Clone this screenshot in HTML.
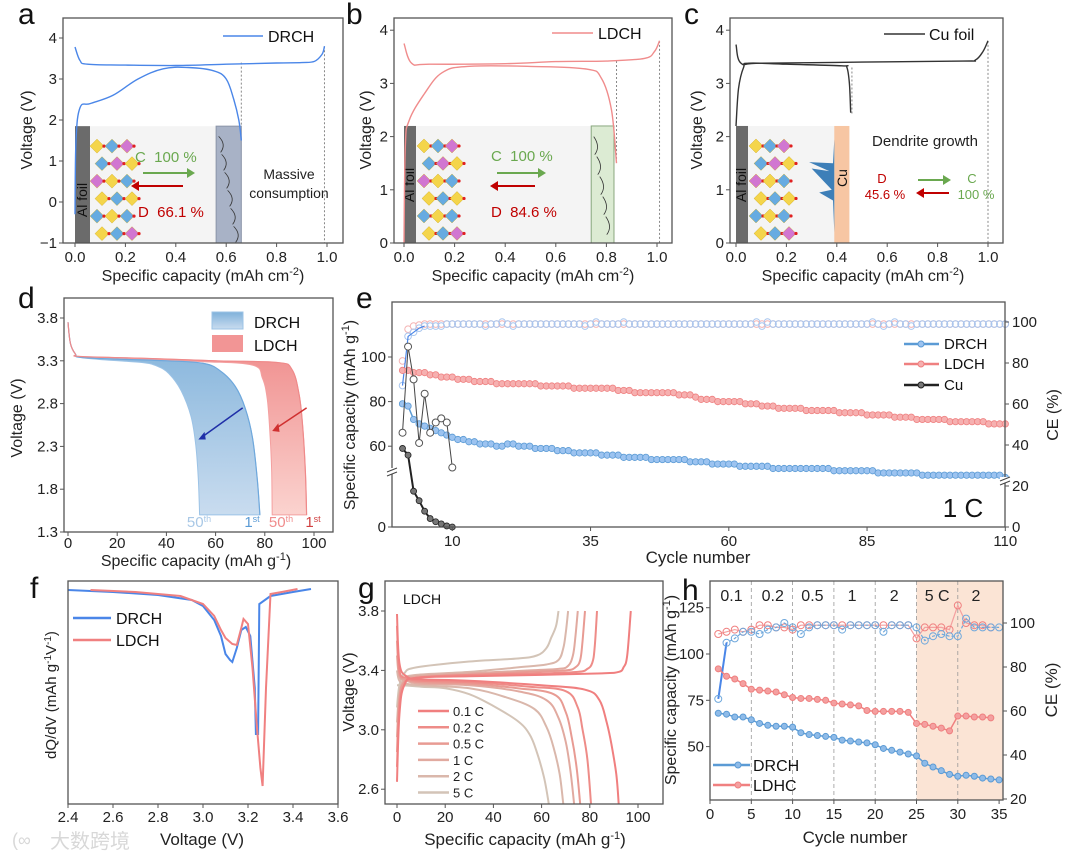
<!DOCTYPE html>
<html><head><meta charset="utf-8"><style>
html,body{margin:0;padding:0;background:#fff;}
svg{display:block;font-family:"Liberation Sans","Noto Sans CJK SC",sans-serif;}
</style></head><body>
<svg id="fig" width="1080" height="863" viewBox="0 0 1080 863">
<defs>
<linearGradient id="gBlue" x1="0" y1="0" x2="0" y2="1"><stop offset="0" stop-color="#7fb1da"/><stop offset="1" stop-color="#c9dcef"/></linearGradient>
<linearGradient id="gRed" x1="0" y1="0" x2="0" y2="1"><stop offset="0" stop-color="#ee8585"/><stop offset="1" stop-color="#fbd3cf"/></linearGradient>
<clipPath id="clipG"><rect x="385" y="581" width="278" height="223"/></clipPath>
</defs>
</svg>
<script>
// ---------- DATA ----------
const aChgCap=[0,0.02,0.05,0.2,0.4,0.6,0.8,0.9,0.95,0.98,0.99];
const aChgV=[3.78,3.45,3.36,3.34,3.33,3.36,3.39,3.4,3.43,3.6,3.8];
const aDisCap=[0,0.004,0.02,0.06,0.15,0.25,0.35,0.45,0.55,0.6,0.63,0.65,0.66];
const aDisV=[-0.3,1.5,2.3,2.4,2.6,3.0,3.25,3.28,3.2,3.0,2.5,2.0,1.5];
const bChgCap=[0,0.03,0.1,0.4,0.6,0.8,0.95,0.99,1.01];
const bChgV=[3.75,3.38,3.36,3.37,3.41,3.42,3.47,3.6,3.8];
const bDisCap=[0,0.005,0.02,0.08,0.15,0.25,0.5,0.72,0.78,0.82,0.84];
const bDisV=[0,1.8,2.3,2.8,3.2,3.32,3.32,3.27,3.1,2.5,1.5];
const cChgCap=[0,0.02,0.1,0.5,0.9,0.95,0.98,1.0];
const cChgV=[3.73,3.38,3.38,3.4,3.42,3.44,3.6,3.8];
const cDisCap=[0,0.01,0.03,0.05,0.2,0.42,0.44,0.45,0.455];
const cDisV=[2.2,2.9,3.3,3.38,3.36,3.33,3.3,3.0,2.45];
const dBlue1Cap=[0,1,3,5,20,40,55,62,68,72,75,77,78];
const dBlue1V=[3.75,3.5,3.38,3.34,3.32,3.3,3.27,3.18,3.0,2.75,2.4,1.9,1.5];
const dBlue50Cap=[0,1,3,5,15,30,36,41,46,50,52,53,53.5];
const dBlue50V=[3.75,3.5,3.38,3.34,3.31,3.28,3.24,3.15,2.95,2.65,2.3,1.9,1.5];
const dRed1Cap=[0,1,3,5,30,60,85,91,94,95.5,96.5,97];
const dRed1V=[3.75,3.5,3.38,3.35,3.33,3.3,3.28,3.2,2.9,2.5,2.0,1.5];
const dRed50Cap=[0,1,3,5,30,55,75,79,81,82.2,82.8,83];
const dRed50V=[3.75,3.5,3.38,3.35,3.32,3.29,3.25,3.1,2.85,2.4,2.0,1.5];
const eDRCH=[79,78,72,70,69,68,67,66,65,64,63,63,62,62,61,61,61,60,60,61,61,60,60,60,59,59,59,59,58,58,58,57,57,57,57,57,56,56,56,56,55,55,55,55,55,54,54,54,54,54,54,54,53,53,53,53,52,52,52,52,52,51,51,51,51,51,51,50,50,50,50,50,50,50,50,50,50,50,49,49,49,49,49,49,49,49,48,48,48,48,48,48,48,48,47,47,47,47,47,47,47,47,47,47,47,47,47,47,47,46];
const eLDCH=[94,94,93,93,93,92,92,91,91,91,90,90,90,89,89,89,89,88,88,88,88,88,88,88,88,87,87,87,87,87,87,86,86,86,86,86,86,86,86,85,85,85,84,84,84,84,84,84,84,84,83,83,83,82,81,81,81,80,80,80,80,80,79,79,79,78,78,78,77,77,77,77,77,76,76,76,76,76,76,75,75,75,75,75,74,74,74,74,74,73,73,73,73,72,72,72,72,72,72,71,71,71,71,71,71,71,70,70,70,70];
const eCu=[59,56,34,25,15,8,5,3,1,0];
const eCeDRCH=[69,93,95,97,98,98,98,98,99,99,99,99,99,99,99,98,99,99,100,99,98,99,99,99,99,99,99,99,99,99,99,99,99,98,99,100,99,99,99,99,100,99,99,99,99,99,99,99,99,99,99,99,99,99,99,99,99,99,99,99,99,99,99,99,100,98,100,99,99,99,99,99,99,99,99,99,99,99,99,99,99,99,99,99,99,100,99,98,99,100,99,99,98,99,99,99,99,99,99,99,99,99,99,99,99,99,99,99,99,99];
const eCeLDCH=[81,96.5,98,98.5,99,99,99,99,99,99,99,99,99,99,99,99,99,99,99,99,99,99,99,99,99,99,99,99,99,99,99,99,99,99,99,99,99,99,99,99,99,99,99,99,99,99,99,99,99,99,99,99,99,99,99,99,99,99,99,99,99,99,99,99,99,99,99,99,99,99,99,99,99,99,99,99,99,99,99,99,99,99,99,99,99,99,99,99,99,99,99,99,99,99,99,99,99,99,99,99,99,99,99,99,99,99,99,99,99,99];
const eCeCu=[46,88,72,41,65,46,51,53,51,29];
const eXTicks=[10,35,60,85,110];
const eLTicks=[60,80,100];
const eRTicks=[0,20,40,60,80,100];
const fDRCHv=[2.4,2.6,2.8,2.95,3.0,3.05,3.08,3.1,3.12,3.13,3.15,3.17,3.19,3.21,3.23,3.235,3.245,3.25,3.3,3.4,3.48];
const fDRCHq=[-1,-2,-3.5,-6,-9,-16,-24,-33,-36,-37,-30,-21,-19.5,-24,-50,-73,-73,-8,-4,-2,-0.5];
const fLDCHv=[2.5,2.7,2.9,3.0,3.05,3.08,3.1,3.13,3.15,3.17,3.18,3.2,3.22,3.24,3.255,3.265,3.28,3.3,3.35,3.42];
const fLDCHq=[-1,-2,-4,-8,-14,-21,-25,-28,-28.5,-20,-15.5,-18,-40,-70,-90,-99,-50,-3,-2,-0.5];
const fXTicks=[2.4,2.6,2.8,3.0,3.2,3.4,3.6];
const gRates=["0.1 C","0.2 C","0.5 C","1 C","2 C","5 C"];
const gChgCap=[[0,1,3,8,30,60,85,92,94,95.5,97],[0,1,3,8,30,60,75,79,81,82,83],[0,1,3,8,30,55,70,74,76,77,78],[0,1,3,8,30,55,67,71,73,74,75],[0,1,3,8,30,50,62,67,69,70,71],[0,1,3,8,30,50,58,62,64,66,67]];
const gChgV=[[2.65,3.1,3.3,3.35,3.36,3.37,3.38,3.39,3.42,3.5,3.8],[2.75,3.15,3.3,3.35,3.37,3.38,3.39,3.41,3.45,3.55,3.8],[2.85,3.2,3.32,3.35,3.37,3.39,3.4,3.42,3.47,3.6,3.8],[2.95,3.22,3.33,3.36,3.38,3.4,3.41,3.43,3.5,3.62,3.8],[3.05,3.25,3.34,3.37,3.39,3.42,3.44,3.47,3.55,3.65,3.8],[3.15,3.3,3.38,3.42,3.46,3.48,3.5,3.55,3.62,3.7,3.8]];
const gDisCap=[[0,1,4,10,30,60,78,84,87,89,91,92],[0,1,4,10,30,55,70,75,77,79,80.5],[0,1,4,10,30,50,65,70,72.5,74.5,76],[0,1,4,10,30,50,62,67,70,72,73.5],[0,1,4,10,30,45,57,62,65,67.5,69],[0,2,10,20,30,40,50,55,58,61,63]];
const gDisV=[[3.78,3.45,3.36,3.34,3.33,3.3,3.27,3.2,3.05,2.9,2.7,2.5],[3.7,3.4,3.35,3.33,3.32,3.29,3.26,3.15,3.0,2.8,2.5],[3.6,3.38,3.34,3.32,3.31,3.28,3.24,3.12,2.95,2.75,2.5],[3.5,3.36,3.33,3.31,3.3,3.26,3.2,3.08,2.92,2.72,2.5],[3.4,3.33,3.31,3.3,3.28,3.22,3.14,3.02,2.88,2.7,2.5],[3.3,3.3,3.29,3.28,3.24,3.16,3.06,2.97,2.85,2.68,2.5]];
const gXTicks=[0,20,40,60,80,100];
const gYTicks=[2.6,3.0,3.4,3.8];
const hDRCH=[68,67.5,66,66,64.5,62.5,61.5,61,61,60.5,57.5,56.5,56,55.5,55,53.5,53,52.5,52,51,49,48,47,46,45,41,39,37,35,34,34.5,34,33,32.5,32];
const hLDHC=[92,88,86.5,84,81,80.5,80,79.5,78,76.5,76,76,75.5,75,73.5,73,72.5,72,69.5,69,69,69,69,68.5,62.5,62,61,60,58.5,66.5,66.5,66,66,65.5];
const hCeDRCH=[65.5,91,93,96,96,95,97,98,100,98,95,98,99,99,99,97,99,99,99,99,96,99,99,99,98,92,94,95,94,94,102,98,98,98,98];
const hCeLDHC=[95,96,97,96,97,99,99,98,98,97,99,99,99,99,99,99,99,99,99,99,99,99,99,99,93,98,98,98,97,108,100,99,99,98];
const hRateLabels=["0.1","0.2","0.5","1","2","5 C","2"];
const hRateCenters=[2.6,7.6,12.4,17.2,22.3,27.5,32.2];
const hXTicks=[0,5,10,15,20,25,30,35];
const hLTicks=[50,75,100,125];
const hRTicks=[20,40,60,80,100];

// ---------- HELPERS ----------
const NS="http://www.w3.org/2000/svg";
const svg=document.getElementById('fig');
function el(tag,a,p){const e=document.createElementNS(NS,tag);for(const k in a)e.setAttribute(k,a[k]);(p||svg).appendChild(e);return e;}
function txt(s,a,p){const e=el('text',a,p);e.innerHTML=s;return e;}
function grp(name){const g=el('g',{});return g;}
function pathOf(xs,ys,fx,fy){return xs.map((x,i)=>(i?'L':'M')+fx(x).toFixed(1)+','+fy(ys[i]).toFixed(1)).join('');}
function smoothOf(xs,ys,fx,fy,cont){const P=xs.map((x,i)=>[fx(x),fy(ys[i])]);let d=(cont?'L':'M')+P[0][0].toFixed(1)+','+P[0][1].toFixed(1);
 for(let i=0;i<P.length-1;i++){const p0=P[i-1]||P[i],p1=P[i],p2=P[i+1],p3=P[i+2]||p2;const t=0.18;
  const c1=[p1[0]+(p2[0]-p0[0])*t,p1[1]+(p2[1]-p0[1])*t],c2=[p2[0]-(p3[0]-p1[0])*t,p2[1]-(p3[1]-p1[1])*t];
  d+=`C${c1[0].toFixed(1)},${c1[1].toFixed(1)} ${c2[0].toFixed(1)},${c2[1].toFixed(1)} ${p2[0].toFixed(1)},${p2[1].toFixed(1)}`;}return d;}
function frame(g,x0,y0,x1,y1){const r=el('rect',{x:x0,y:y0,width:x1-x0,height:y1-y0,fill:'none',stroke:'#555','stroke-width':1.3},g);return r;}
function xTicks(g,vals,fx,yb,fmt,ly){for(const v of vals){const x=fx(v);const t=el('line',{x1:x,x2:x,y1:yb,y2:yb+4,stroke:'#555'},g);const l=txt(fmt(v),{x:x,y:ly,'text-anchor':'middle','font-size':15,fill:'#222'},g);}}
function yTicks(g,vals,fy,xa,fmt,side){for(const v of vals){const y=fy(v);const d=side==='r'?4:-4;const t=el('line',{x1:xa,x2:xa+d,y1:y,y2:y,stroke:'#555'},g);const l=txt(fmt(v),{x:xa+(side==='r'?7:-6),y:y+5,'text-anchor':side==='r'?'start':'end','font-size':15,fill:'#222'},g);}}
function rotLabel(g,s,x,y,size){const t=txt(s,{x:0,y:0,transform:`translate(${x},${y}) rotate(-90)`,'text-anchor':'middle','font-size':size||16,fill:'#222'},g);return t;}
function panelLetter(s,x,y){const t=txt(s,{x:x,y:y,'font-size':30,fill:'#111'});}
function crystal(g,x0,y0,w,h){
  const cols=['#f5d442','#5fa8e0','#d070d0','#f5d442','#5fa8e0'];
  for(let r=0;r<6;r++)for(let c=0;c<3;c++){const cx=x0+6+c*(w/3)+(r%2)*5, cy=y0+8+r*(h/6);const s=7;
   const p=el('polygon',{points:`${cx},${cy-s} ${cx+s},${cy} ${cx},${cy+s} ${cx-s},${cy}`,fill:cols[(r+c)%5],stroke:'#c8a000','stroke-width':0.4,opacity:0.95},g);
   
   const d=el('circle',{cx:cx+s,cy:cy,r:1.6,fill:'#e02020'},g);}
}
function arrow(g,x1,x2,y,col){const l=el('line',{x1:x1,x2:x2,y1:y,y2:y,stroke:col,'stroke-width':2},g);const dir=x2>x1?1:-1;const h=el('polygon',{points:`${x2+dir*6},${y} ${x2-dir*2},${y-5} ${x2-dir*2},${y+5}`,fill:col},g);}
const CAPCM='Specific capacity (mAh cm<tspan baseline-shift="super" font-size="11">-2</tspan>)';
const CAPG='Specific capacity (mAh g<tspan baseline-shift="super" font-size="11">-1</tspan>)';

// ---------- PANEL A ----------
(function(){const g=grp('panel-a');const fx=c=>75+252*c, fy=v=>202-41*v;
 const bg=el('rect',{x:fx(0),y:fy(1.85),width:fx(0.66)-fx(0),height:fy(-1)-fy(1.85),fill:'#f4f4f4'},g);
 const al=el('rect',{x:fx(0),y:fy(1.85),width:15,height:fy(-1)-fy(1.85),fill:'#6b6b6b'},g);
 const at=txt('Al foil',{x:0,y:0,transform:`translate(${fx(0)+12},200) rotate(-90)`,'text-anchor':'middle','font-size':14,fill:'#111'},g);
 crystal(g,fx(0)+16,fy(1.85)+12,45,105);
 const sb=el('rect',{x:fx(0.56),y:fy(1.85),width:fx(0.66)-fx(0.56),height:fy(-1)-fy(1.85),fill:'#a8b2c6',stroke:'#8a94a8'},g);
 for(let i=0;i<6;i++){const s=el('path',{d:`M${fx(0.57)+i*3},${fy(1.6)+i*18} q8,8 2,16`,stroke:'#333',fill:'none','stroke-width':0.8},g);}
 txt('C&#160; 100 %',{x:135,y:162,'font-size':15,fill:'#6aa84f'},g);
 arrow(g,143,189,173,'#6aa84f');arrow(g,183,137,186,'#c00000');
 txt('D&#160; 66.1 %',{x:138,y:217,'font-size':15,fill:'#c00000'},g);
 txt('Massive',{x:289,y:179,'text-anchor':'middle','font-size':14,fill:'#222'},g);
 txt('consumption',{x:289,y:198,'text-anchor':'middle','font-size':14,fill:'#222'},g);
 for(const [c,v1,v2] of [[0.66,3.4,1.85],[0.99,3.8,-1]]){const d=el('line',{x1:fx(c),x2:fx(c),y1:fy(v1),y2:fy(v2),stroke:'#888','stroke-dasharray':'2,2'},g);}
 const p1=el('path',{d:smoothOf(aChgCap,aChgV,fx,fy),fill:'none',stroke:'#4a86e8','stroke-width':1.4},g);
 const p2=el('path',{d:smoothOf(aDisCap,aDisV,fx,fy),fill:'none',stroke:'#4a86e8','stroke-width':1.4},g);
 frame(g,63,18,343,243);
 xTicks(g,[0,0.2,0.4,0.6,0.8,1.0],fx,243,v=>v.toFixed(1),262);
 yTicks(g,[-1,0,1,2,3,4],fy,63,v=>v<0?'\u2212'+(-v):''+v,'l');
 rotLabel(g,'Voltage (V)',32,130);
 txt(CAPCM,{x:203,y:281,'text-anchor':'middle','font-size':16,fill:'#222'},g);
 const ll=el('line',{x1:223,x2:263,y1:36,y2:36,stroke:'#4a86e8','stroke-width':1.5},g);
 txt('DRCH',{x:268,y:42,'font-size':16,fill:'#111'},g);
})();
panelLetter('a',18,24);

// ---------- PANEL B ----------
(function(){const g=grp('panel-b');const fx=c=>404+253*c, fy=v=>243-53.2*v;
 el('rect',{x:fx(0),y:fy(2.2),width:fx(0.83)-fx(0),height:fy(0)-fy(2.2),fill:'#f4f4f4'},g);
 el('rect',{x:fx(0),y:fy(2.2),width:12,height:fy(0)-fy(2.2),fill:'#6b6b6b'},g);
 txt('Al foil',{x:0,y:0,transform:`translate(${fx(0)+10},185) rotate(-90)`,'text-anchor':'middle','font-size':14,fill:'#111'},g);
 crystal(g,fx(0)+14,fy(2.2)+12,42,105);
 el('rect',{x:fx(0.74),y:fy(2.2),width:fx(0.83)-fx(0.74),height:fy(0)-fy(2.2),fill:'#dcebd3',stroke:'#8aa880'},g);
 for(let i=0;i<5;i++){el('path',{d:`M${fx(0.75)+i*3},${fy(2.0)+i*20} q7,10 1,18`,stroke:'#333',fill:'none','stroke-width':0.8},g);}
 txt('C&#160; 100 %',{x:491,y:161,'font-size':15,fill:'#6aa84f'},g);
 arrow(g,497,540,173,'#6aa84f');arrow(g,535,496,186,'#c00000');
 txt('D&#160; 84.6 %',{x:491,y:217,'font-size':15,fill:'#c00000'},g);
 for(const [c,v1,v2] of [[0.84,3.42,1.5],[1.01,3.8,0]]){el('line',{x1:fx(c),x2:fx(c),y1:fy(v1),y2:fy(v2),stroke:'#888','stroke-dasharray':'2,2'},g);}
 el('path',{d:smoothOf(bChgCap,bChgV,fx,fy),fill:'none',stroke:'#f08c8c','stroke-width':1.4},g);
 el('path',{d:smoothOf(bDisCap,bDisV,fx,fy),fill:'none',stroke:'#f08c8c','stroke-width':1.4},g);
 frame(g,394,18,672,243);
 xTicks(g,[0,0.2,0.4,0.6,0.8,1.0],fx,243,v=>v.toFixed(1),262);
 yTicks(g,[0,1,2,3,4],fy,394,v=>''+v,'l');
 rotLabel(g,'Voltage (V)',371,130);
 txt(CAPCM,{x:533,y:281,'text-anchor':'middle','font-size':16,fill:'#222'},g);
 el('line',{x1:552,x2:593,y1:33,y2:33,stroke:'#f08c8c','stroke-width':1.5},g);
 txt('LDCH',{x:598,y:39,'font-size':16,fill:'#111'},g);
})();
panelLetter('b',346,24);

// ---------- PANEL C ----------
(function(){const g=grp('panel-c');const fx=c=>736+252*c, fy=v=>243-53.2*v;
 el('rect',{x:fx(0),y:fy(2.2),width:fx(0.45)-fx(0),height:fy(0)-fy(2.2),fill:'#f4f4f4'},g);
 el('rect',{x:fx(0),y:fy(2.2),width:12,height:fy(0)-fy(2.2),fill:'#6b6b6b'},g);
 txt('Al foil',{x:0,y:0,transform:`translate(${fx(0)+10},185) rotate(-90)`,'text-anchor':'middle','font-size':14,fill:'#111'},g);
 crystal(g,fx(0)+14,fy(2.2)+12,42,105);
 el('rect',{x:fx(0.39),y:fy(2.2),width:fx(0.45)-fx(0.39),height:fy(0)-fy(2.2),fill:'#f7c6a3'},g);
 txt('Cu',{x:0,y:0,transform:`translate(${fx(0.42)+5},178) rotate(-90)`,'text-anchor':'middle','font-size':14,fill:'#111'},g);
 el('path',{d:`M${fx(0.39)},${fy(1.95)} L${fx(0.39)},${fy(0.2)} L${fx(0.385)},${fy(0.8)} L${fx(0.33)},${fy(0.95)} L${fx(0.38)},${fy(1.0)} L${fx(0.3)},${fy(1.4)} L${fx(0.37)},${fy(1.35)} L${fx(0.29)},${fy(1.52)} L${fx(0.385)},${fy(1.5)} Z`,fill:'#3d7fb8'},g);
 txt('Dendrite growth',{x:925,y:146,'text-anchor':'middle','font-size':15,fill:'#222'},g);
 txt('D',{x:882,y:183,'text-anchor':'middle','font-size':13,fill:'#c00000'},g);
 txt('45.6 %',{x:885,y:199,'text-anchor':'middle','font-size':13,fill:'#c00000'},g);
 arrow(g,918,945,180,'#6aa84f');arrow(g,949,922,193,'#c00000');
 txt('C',{x:972,y:183,'text-anchor':'middle','font-size':13,fill:'#6aa84f'},g);
 txt('100 %',{x:976,y:199,'text-anchor':'middle','font-size':13,fill:'#6aa84f'},g);
 for(const [c,v1,v2] of [[0.46,3.3,2.4],[1.0,3.8,0]]){el('line',{x1:fx(c),x2:fx(c),y1:fy(v1),y2:fy(v2),stroke:'#888','stroke-dasharray':'2,2'},g);}
 el('path',{d:smoothOf(cChgCap,cChgV,fx,fy),fill:'none',stroke:'#333','stroke-width':1.4},g);
 el('path',{d:smoothOf(cDisCap,cDisV,fx,fy),fill:'none',stroke:'#333','stroke-width':1.4},g);
 frame(g,730,18,1003,243);
 xTicks(g,[0,0.2,0.4,0.6,0.8,1.0],fx,243,v=>v.toFixed(1),262);
 yTicks(g,[0,1,2,3,4],fy,730,v=>''+v,'l');
 rotLabel(g,'Voltage (V)',702,130);
 txt(CAPCM,{x:863,y:281,'text-anchor':'middle','font-size':16,fill:'#222'},g);
 el('line',{x1:884,x2:925,y1:34,y2:34,stroke:'#333','stroke-width':1.5},g);
 txt('Cu foil',{x:929,y:40,'font-size':16,fill:'#111'},g);
})();
panelLetter('c',684,24);

// ---------- PANEL D ----------
(function(){const g=grp('panel-d');const fx=c=>68+2.46*c, fy=v=>318+(3.8-v)*85.6;
 const band=(c1,v1,c2,v2)=>smoothOf(c1,v1,fx,fy)+smoothOf(c2.slice().reverse(),v2.slice().reverse(),fx,fy,true)+'Z';
 el('path',{d:band(dRed1Cap,dRed1V,dRed50Cap,dRed50V),fill:'url(#gRed)',stroke:'#f4a0a0','stroke-width':1},g);
 el('path',{d:band(dBlue1Cap,dBlue1V,dBlue50Cap,dBlue50V),fill:'url(#gBlue)',stroke:'#9cc3e6','stroke-width':1},g);
 el('path',{d:smoothOf(dBlue1Cap,dBlue1V,fx,fy),fill:'none',stroke:'#6fa8dc','stroke-width':1.2},g);
 el('path',{d:smoothOf(dRed1Cap,dRed1V,fx,fy),fill:'none',stroke:'#ef8a8a','stroke-width':1.2},g);
 const a1=el('line',{x1:fx(71),y1:fy(2.75),x2:fx(54),y2:fy(2.4),stroke:'#1f2fa8','stroke-width':1.5},g);
 el('polygon',{points:`${fx(53)},${fy(2.38)} ${fx(55.5)},${fy(2.47)} ${fx(56)},${fy(2.38)}`,fill:'#1f2fa8'},g);
 const a2=el('line',{x1:fx(97),y1:fy(2.75),x2:fx(84),y2:fy(2.5),stroke:'#d03030','stroke-width':1.5},g);
 el('polygon',{points:`${fx(83)},${fy(2.48)} ${fx(85.5)},${fy(2.57)} ${fx(86)},${fy(2.47)}`,fill:'#d03030'},g);
 const lab=(s,x,c)=>{const t=txt(s+'<tspan baseline-shift="super" font-size="9">'+(s==='50'?'th':'st')+'</tspan>',{x:x,y:527,'text-anchor':'middle','font-size':15,fill:c},g);};
 lab('50',199,'#a9c8e6');lab('1',252,'#5b9bd5');lab('50',281,'#f08c8c');lab('1',313,'#d04040');
 frame(g,64,298,333,532);
 xTicks(g,[0,20,40,60,80,100],fx,532,v=>''+v,548);
 yTicks(g,[1.3,1.8,2.3,2.8,3.3,3.8],fy,64,v=>v.toFixed(1),'l');
 rotLabel(g,'Voltage (V)',22,418);
 txt(CAPG,{x:196,y:566,'text-anchor':'middle','font-size':16,fill:'#222'},g);
 el('rect',{x:212,y:312,width:31,height:17,fill:'url(#gBlue)',stroke:'#9cc3e6'},g);
 txt('DRCH',{x:254,y:328,'font-size':16,fill:'#111'},g);
 el('rect',{x:212,y:335,width:31,height:17,fill:'#f29595'},g);
 txt('LDCH',{x:254,y:351,'font-size':16,fill:'#111'},g);
})();
panelLetter('d',18,308);

// ---------- PANEL E ----------
(function(){const g=grp('panel-e');const fx=c=>397+5.53*c;
 const fyL=v=>v>=45?357+(100-v)*2.23:527-v*1.053;
 const fyR=v=>527-v*2.05;
 const cyc=a=>a.map((_,i)=>i+1);
 for(let i=0;i<eCeLDCH.length;i++){const c=el('circle',{cx:fx(i+1),cy:fyR(eCeLDCH[i]),r:3.3,fill:'#fff',stroke:'#f4b4b4','stroke-width':1},g);}
 for(let i=0;i<eCeDRCH.length;i++){const c=el('circle',{cx:fx(i+1),cy:fyR(eCeDRCH[i]),r:3.3,fill:'none',stroke:'#a9c6ee','stroke-width':1},g);}
 el('path',{d:pathOf(cyc(eCeDRCH).slice(0,5),eCeDRCH.slice(0,5),fx,fyR),fill:'none',stroke:'#4a86e8','stroke-width':1.2},g);
 el('path',{d:pathOf(cyc(eLDCH),eLDCH,fx,fyL),fill:'none',stroke:'#f08c8c','stroke-width':1.5},g);
 for(let i=0;i<eLDCH.length;i++){const c=el('circle',{cx:fx(i+1),cy:fyL(eLDCH[i]),r:3.2,fill:'#f6b0b0',stroke:'#ef8080','stroke-width':0.8},g);}
 el('path',{d:pathOf(cyc(eDRCH),eDRCH,fx,fyL),fill:'none',stroke:'#5b9bd5','stroke-width':1.5},g);
 for(let i=0;i<eDRCH.length;i++){const c=el('circle',{cx:fx(i+1),cy:fyL(eDRCH[i]),r:3.2,fill:'#9cc3f0',stroke:'#5b9bd5','stroke-width':0.8},g);}
 el('path',{d:pathOf(cyc(eCeCu),eCeCu,fx,fyR),fill:'none',stroke:'#444','stroke-width':1},g);
 for(let i=0;i<eCeCu.length;i++){const c=el('circle',{cx:fx(i+1),cy:fyR(eCeCu[i]),r:3.5,fill:'#fff',stroke:'#555','stroke-width':1},g);}
 el('path',{d:pathOf(cyc(eCu),eCu,fx,fyL),fill:'none',stroke:'#222','stroke-width':2},g);
 for(let i=0;i<eCu.length;i++){const c=el('circle',{cx:fx(i+1),cy:fyL(eCu[i]),r:3,fill:'#777',stroke:'#222','stroke-width':0.8},g);}
 frame(g,392,302,1005,527);
 xTicks(g,eXTicks,fx,527,v=>''+v,546);
 yTicks(g,eLTicks.concat([0]),fyL,392,v=>''+v,'l');
 yTicks(g,eRTicks,fyR,1005,v=>''+v,'r');
 for(const x of [392,1005]){const y=x===392?472:481;el('rect',{x:x-5,y:y-4,width:10,height:6,fill:'#fff'},g);
  el('path',{d:`M${x-5},${y} l10,-4 M${x-5},${y+4} l10,-4`,stroke:'#444','stroke-width':1},g);}
 rotLabel(g,CAPG,355,415);
 rotLabel(g,'CE (%)',1058,415);
 txt('Cycle number',{x:698,y:563,'text-anchor':'middle','font-size':17,fill:'#222'},g);
 txt('1 C',{x:963,y:517,'text-anchor':'middle','font-size':26,fill:'#111'},g);
 const lg=[['DRCH','#5b9bd5','#9cc3f0',344],['LDCH','#ef8080','#f6b0b0',364],['Cu','#222','#777',385]];
 for(const [n,s,f,y] of lg){el('line',{x1:904,x2:939,y1:y,y2:y,stroke:s,'stroke-width':2.5},g);
  el('circle',{cx:921,cy:y,r:3,fill:f,stroke:s},g);
  txt(n,{x:944,y:y+5,'font-size':15,fill:'#111'},g);}
})();
panelLetter('e',356,308);

// ---------- PANEL F ----------
(function(){const g=grp('panel-f');const fx=v=>68+(v-2.4)*225, fy=q=>588-q*2;
 el('path',{d:pathOf(fDRCHv,fDRCHq,fx,fy),fill:'none',stroke:'#4a86e8','stroke-width':2},g);
 el('path',{d:pathOf(fLDCHv,fLDCHq,fx,fy),fill:'none',stroke:'#f08080','stroke-width':2},g);
 frame(g,68,581,338,804);
 xTicks(g,fXTicks,fx,804,v=>v.toFixed(1),822);
 rotLabel(g,'dQ/dV (mAh g<tspan baseline-shift="super" font-size="10">-1</tspan>V<tspan baseline-shift="super" font-size="10">-1</tspan>)',56,695,15);
 txt('Voltage (V)',{x:202,y:845,'text-anchor':'middle','font-size':17,fill:'#222'},g);
 el('line',{x1:73,x2:111,y1:618,y2:618,stroke:'#4a86e8','stroke-width':2.5},g);
 txt('DRCH',{x:116,y:624,'font-size':16,fill:'#111'},g);
 el('line',{x1:73,x2:111,y1:640,y2:640,stroke:'#f08080','stroke-width':2.5},g);
 txt('LDCH',{x:116,y:646,'font-size':16,fill:'#111'},g);
 txt('大数跨境',{x:50,y:848,'font-size':20,fill:'#d8d8d8'},g);
 txt('(∞',{x:12,y:846,'font-size':18,fill:'#d8d8d8'},g);
})();
panelLetter('f',30,598);

// ---------- PANEL G ----------
(function(){const g=grp('panel-g');const fx=c=>397+2.41*c, fy=v=>611+(3.8-v)*148.5;
 const cols=['#f07f7f','#ee8c88','#e89b93','#e1aaa0','#dab7ab','#d3c4b7'];
 const cg=el('g',{'clip-path':'url(#clipG)'},g);
 for(let i=gRates.length-1;i>=0;i--){
  el('path',{d:smoothOf(gChgCap[i],gChgV[i],fx,fy),fill:'none',stroke:cols[i],'stroke-width':2},cg);
  el('path',{d:smoothOf(gDisCap[i],gDisV[i],fx,fy),fill:'none',stroke:cols[i],'stroke-width':2},cg);
 }
 frame(g,385,581,663,804);
 xTicks(g,gXTicks,fx,804,v=>''+v,822);
 yTicks(g,gYTicks,fy,385,v=>v.toFixed(1),'l');
 rotLabel(g,'Voltage (V)',354,692);
 txt(CAPG,{x:525,y:845,'text-anchor':'middle','font-size':17,fill:'#222'},g);
 txt('LDCH',{x:403,y:604,'font-size':14,fill:'#111'},g);
 for(let i=0;i<gRates.length;i++){const y=711+i*16.3;
  el('line',{x1:418,x2:449,y1:y,y2:y,stroke:cols[i],'stroke-width':2.5},g);
  txt(gRates[i],{x:453,y:y+5,'font-size':13,fill:'#222'},g);}
})();
panelLetter('g',358,598);

// ---------- PANEL H ----------
(function(){const g=grp('panel-h');const fx=c=>710+8.26*c, fyL=v=>654-(v-100)*1.852, fyR=v=>623+(100-v)*2.2;
 el('rect',{x:fx(25),y:581,width:1003-fx(25),height:219,fill:'#fbe4d5'},g);
 for(const c of [5,10,15,20,25,30]){el('line',{x1:fx(c),x2:fx(c),y1:581,y2:800,stroke:'#999','stroke-dasharray':'4,3','stroke-width':0.8},g);}
 for(let i=0;i<hRateLabels.length;i++){txt(hRateLabels[i],{x:fx(hRateCenters[i]),y:601,'text-anchor':'middle','font-size':16,fill:'#222'},g);}
 const cy=a=>a.map((_,i)=>i+1);
 el('path',{d:pathOf(cy(hCeLDHC),hCeLDHC,fx,fyR),fill:'none',stroke:'#f4a0a0','stroke-width':1.2},g);
 for(let i=0;i<hCeLDHC.length;i++){el('circle',{cx:fx(i+1),cy:fyR(hCeLDHC[i]),r:3.5,fill:'none',stroke:'#f08080','stroke-width':1},g);}
 el('path',{d:pathOf(cy(hCeDRCH),hCeDRCH,fx,fyR),fill:'none',stroke:'#6fa8dc','stroke-width':1.2,'stroke-dasharray':'3,2'},g);
 el('path',{d:pathOf([1,2],hCeDRCH.slice(0,2),fx,fyR),fill:'none',stroke:'#4a86e8','stroke-width':2},g);
 for(let i=0;i<hCeDRCH.length;i++){el('circle',{cx:fx(i+1),cy:fyR(hCeDRCH[i]),r:3.5,fill:'none',stroke:'#6fa8dc','stroke-width':1},g);}
 el('path',{d:pathOf(cy(hLDHC),hLDHC,fx,fyL),fill:'none',stroke:'#f08080','stroke-width':1.5},g);
 for(let i=0;i<hLDHC.length;i++){el('circle',{cx:fx(i+1),cy:fyL(hLDHC[i]),r:3,fill:'#f4a0a0',stroke:'#ef7f7f'},g);}
 el('path',{d:pathOf(cy(hDRCH),hDRCH,fx,fyL),fill:'none',stroke:'#5b9bd5','stroke-width':1.5},g);
 for(let i=0;i<hDRCH.length;i++){el('circle',{cx:fx(i+1),cy:fyL(hDRCH[i]),r:3,fill:'#8fbbe8',stroke:'#5b9bd5'},g);}
 frame(g,710,581,1003,800);
 xTicks(g,hXTicks,fx,800,v=>''+v,819);
 yTicks(g,hLTicks,fyL,710,v=>''+v,'l');
 yTicks(g,hRTicks,fyR,1003,v=>''+v,'r');
 rotLabel(g,CAPG,676,690);
 rotLabel(g,'CE (%)',1057,690,17);
 txt('Cycle number',{x:855,y:843,'text-anchor':'middle','font-size':17,fill:'#222'},g);
 const lg=[['DRCH','#5b9bd5','#8fbbe8',765],['LDHC','#f08080','#f4a0a0',785]];
 for(const [n,s,f,y] of lg){el('line',{x1:713,x2:750,y1:y,y2:y,stroke:s,'stroke-width':2.5},g);
  el('circle',{cx:738,cy:y,r:3,fill:f,stroke:s},g);
  txt(n,{x:753,y:y+6,'font-size':16,fill:'#111'},g);}
})();
panelLetter('h',682,600);
</script>
</body></html>
